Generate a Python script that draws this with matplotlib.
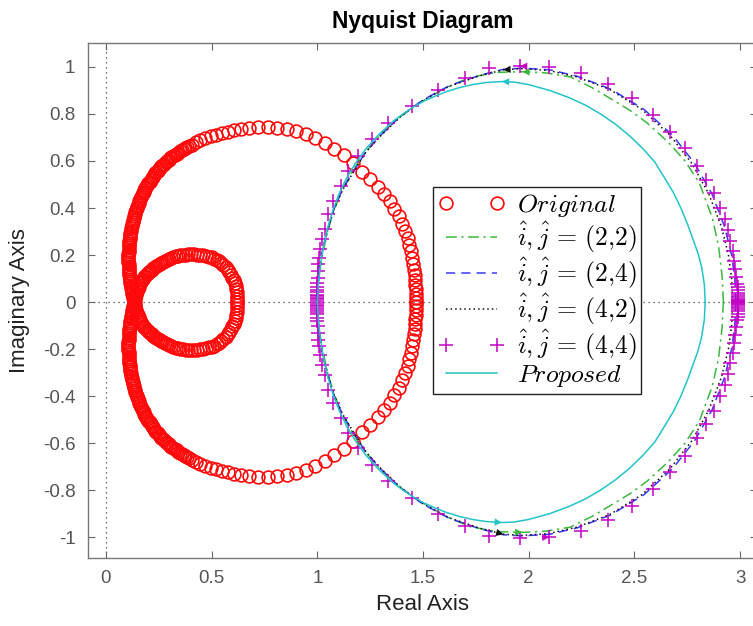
import numpy as np
import matplotlib
matplotlib.use('Agg')
import matplotlib.pyplot as plt

plt.rcParams['font.family'] = ['Liberation Sans', 'DejaVu Sans']
plt.rcParams['mathtext.fontset'] = 'cm'
plt.rcParams['axes.unicode_minus'] = False

# points, positive-frequency branch (upper half, Im >= 0)
# the negative-frequency branch of a Nyquist plot is its mirror image
original_upper = [
    (1.467, 0.000), (1.467, 0.018), (1.466, 0.036), (1.465, 0.054), (1.464, 0.072),
    (1.462, 0.092), (1.460, 0.114), (1.457, 0.137), (1.453, 0.162), (1.449, 0.188),
    (1.443, 0.215), (1.436, 0.243), (1.427, 0.272), (1.416, 0.302), (1.402, 0.333),
    (1.385, 0.364), (1.365, 0.396), (1.342, 0.428), (1.315, 0.458), (1.285, 0.489),
    (1.250, 0.522), (1.212, 0.555), (1.170, 0.590), (1.125, 0.624), (1.080, 0.652),
    (1.036, 0.678), (0.990, 0.698), (0.945, 0.714), (0.900, 0.726), (0.855, 0.735),
    (0.810, 0.741), (0.765, 0.744), (0.720, 0.744), (0.678, 0.742), (0.640, 0.737),
    (0.605, 0.731), (0.575, 0.725), (0.548, 0.719), (0.520, 0.712), (0.495, 0.705),
    (0.470, 0.697), (0.447, 0.688), (0.425, 0.679),
    (0.405, 0.670), (0.395, 0.665), (0.385, 0.660), (0.376, 0.655), (0.367, 0.650),
    (0.358, 0.646), (0.350, 0.641), (0.342, 0.636), (0.334, 0.631), (0.326, 0.626),
    (0.318, 0.621), (0.310, 0.616), (0.303, 0.611), (0.296, 0.606), (0.289, 0.600),
    (0.282, 0.595), (0.275, 0.589), (0.268, 0.583), (0.262, 0.577), (0.256, 0.571),
    (0.250, 0.565), (0.244, 0.559), (0.238, 0.553), (0.232, 0.547), (0.227, 0.540),
    (0.221, 0.533), (0.216, 0.526), (0.211, 0.519), (0.206, 0.512), (0.201, 0.505),
    (0.196, 0.498), (0.191, 0.491), (0.187, 0.484), (0.182, 0.477), (0.178, 0.469),
    (0.174, 0.462), (0.170, 0.454), (0.166, 0.446), (0.162, 0.438), (0.158, 0.430),
    (0.155, 0.422), (0.151, 0.414), (0.148, 0.406), (0.145, 0.398), (0.142, 0.390),
    (0.139, 0.381), (0.136, 0.373), (0.133, 0.364), (0.131, 0.356), (0.128, 0.347),
    (0.126, 0.339), (0.124, 0.330), (0.122, 0.322), (0.120, 0.313), (0.118, 0.304),
    (0.116, 0.295), (0.115, 0.286), (0.113, 0.277), (0.112, 0.268), (0.111, 0.259),
    (0.110, 0.250), (0.109, 0.241), (0.108, 0.232), (0.107, 0.223), (0.107, 0.214),
    (0.106, 0.205), (0.106, 0.196), (0.106, 0.187), (0.106, 0.178), (0.106, 0.169),
    (0.107, 0.160), (0.107, 0.151), (0.108, 0.142), (0.109, 0.133), (0.110, 0.124),
    (0.111, 0.115), (0.112, 0.106), (0.113, 0.097), (0.115, 0.088), (0.116, 0.079),
    (0.118, 0.070), (0.119, 0.061), (0.121, 0.053), (0.123, 0.044), (0.125, 0.036),
    (0.127, 0.027), (0.129, 0.018), (0.131, 0.009), (0.133, 0.000),
    # small inner loop
    (0.135, 0.008), (0.137, 0.016), (0.139, 0.024), (0.141, 0.032), (0.144, 0.040),
    (0.147, 0.048), (0.150, 0.056), (0.154, 0.064), (0.158, 0.072), (0.162, 0.080),
    (0.166, 0.087), (0.171, 0.093), (0.176, 0.100), (0.181, 0.106), (0.186, 0.112),
    (0.192, 0.118), (0.198, 0.123), (0.204, 0.128), (0.210, 0.133), (0.217, 0.138),
    (0.224, 0.143), (0.231, 0.148), (0.238, 0.153), (0.246, 0.158), (0.254, 0.163),
    (0.262, 0.167), (0.270, 0.172), (0.279, 0.176), (0.288, 0.180), (0.298, 0.184),
    (0.308, 0.188), (0.318, 0.191), (0.329, 0.194), (0.340, 0.197), (0.352, 0.199),
    (0.364, 0.201), (0.377, 0.202), (0.390, 0.203), (0.404, 0.203), (0.418, 0.203),
    (0.432, 0.202), (0.446, 0.200), (0.460, 0.198), (0.474, 0.196), (0.487, 0.193),
    (0.500, 0.190), (0.512, 0.185), (0.524, 0.180), (0.535, 0.173), (0.546, 0.165),
    (0.556, 0.156), (0.566, 0.147), (0.575, 0.137), (0.584, 0.126), (0.591, 0.115),
    (0.598, 0.104), (0.604, 0.092), (0.609, 0.080), (0.613, 0.067), (0.616, 0.054),
    (0.618, 0.041), (0.620, 0.027), (0.621, 0.014), (0.621, 0.000),
]

ij22_upper = [
    (2.921, 0.000), (2.915, 0.110), (2.898, 0.240), (2.868, 0.360), (2.808, 0.505),
    (2.740, 0.600), (2.660, 0.680), (2.559, 0.763), (2.480, 0.815), (2.401, 0.858),
    (2.300, 0.912), (2.196, 0.958), (2.080, 0.975), (1.970, 0.980), (1.850, 0.977),
    (1.720, 0.955), (1.600, 0.908), (1.480, 0.845), (1.380, 0.780), (1.300, 0.712),
    (1.235, 0.645), (1.183, 0.580), (1.140, 0.515), (1.105, 0.450), (1.075, 0.380),
    (1.050, 0.305), (1.030, 0.225), (1.015, 0.150), (1.005, 0.075), (1.000, 0.000),
]

ij24_upper = [
    (2.980, 0.000), (2.975, 0.100), (2.960, 0.200), (2.927, 0.320), (2.867, 0.460),
    (2.785, 0.590), (2.680, 0.710), (2.545, 0.820), (2.390, 0.905), (2.232, 0.960),
    (2.100, 0.988), (1.970, 0.995), (1.880, 0.990), (1.770, 0.965), (1.624, 0.920),
    (1.500, 0.860), (1.393, 0.790), (1.300, 0.710), (1.230, 0.640), (1.174, 0.560),
    (1.120, 0.480), (1.080, 0.400), (1.053, 0.320), (1.028, 0.240), (1.013, 0.160),
    (1.004, 0.080), (1.000, 0.000),
]

ij42_upper = [
    (2.965, 0.000), (2.960, 0.100), (2.945, 0.200), (2.912, 0.320), (2.852, 0.460),
    (2.772, 0.590), (2.668, 0.710), (2.535, 0.820), (2.382, 0.905), (2.226, 0.958),
    (2.095, 0.985), (1.968, 0.993), (1.880, 0.988), (1.770, 0.963), (1.624, 0.918),
    (1.500, 0.858), (1.393, 0.788), (1.300, 0.708), (1.230, 0.638), (1.174, 0.558),
    (1.120, 0.478), (1.080, 0.398), (1.053, 0.318), (1.028, 0.238), (1.013, 0.158),
    (1.004, 0.078), (1.000, 0.000),
]

ij44_upper = [
    (2.990, 0.002), (2.990, 0.005), (2.990, 0.009), (2.990, 0.014), (2.990, 0.020),
    (2.989, 0.028), (2.989, 0.038), (2.988, 0.050), (2.988, 0.062), (2.987, 0.075),
    (2.982, 0.106), (2.978, 0.139), (2.973, 0.174), (2.966, 0.217), (2.954, 0.260),
    (2.942, 0.305), (2.928, 0.352), (2.904, 0.401), (2.877, 0.462), (2.841, 0.518),
    (2.798, 0.579), (2.740, 0.654), (2.669, 0.725), (2.587, 0.796), (2.488, 0.867),
    (2.375, 0.926), (2.247, 0.973), (2.098, 1.000), (1.959, 1.004), (1.814, 0.994),
    (1.699, 0.951), (1.570, 0.902), (1.448, 0.834), (1.336, 0.763), (1.257, 0.692),
    (1.194, 0.621), (1.147, 0.557), (1.111, 0.494), (1.073, 0.430), (1.052, 0.376),
    (1.036, 0.309), (1.022, 0.267), (1.013, 0.224), (1.008, 0.189), (1.005, 0.160),
    (1.002, 0.132), (1.001, 0.103), (1.000, 0.082), (1.000, 0.066), (1.000, 0.052),
    (1.000, 0.041), (1.000, 0.032), (1.000, 0.024), (1.000, 0.017), (1.000, 0.011),
    (1.000, 0.005),
]

proposed_upper = [
    (2.835, 0.000), (2.831, 0.075), (2.818, 0.150), (2.800, 0.210), (2.780, 0.260),
    (2.752, 0.330), (2.720, 0.400), (2.685, 0.465), (2.645, 0.525), (2.597, 0.595),
    (2.543, 0.650), (2.480, 0.705), (2.410, 0.757), (2.340, 0.800), (2.270, 0.837),
    (2.190, 0.870), (2.100, 0.900), (2.000, 0.925), (1.930, 0.936), (1.873, 0.938),
    (1.800, 0.934), (1.740, 0.926), (1.675, 0.913), (1.610, 0.895), (1.560, 0.877),
    (1.500, 0.853), (1.450, 0.827), (1.400, 0.797), (1.360, 0.770), (1.290, 0.712),
    (1.230, 0.652), (1.180, 0.590), (1.140, 0.530), (1.105, 0.465), (1.075, 0.395),
    (1.050, 0.320), (1.030, 0.240), (1.015, 0.160), (1.005, 0.080), (1.000, 0.000),
]

series_labels = [r'$Original$', r'$\hat{i},\hat{j}\,=\,(2{,}2)$', r'$\hat{i},\hat{j}\,=\,(2{,}4)$',
                 r'$\hat{i},\hat{j}\,=\,(4{,}2)$', r'$\hat{i},\hat{j}\,=\,(4{,}4)$', r'$Proposed$']
xticks = [0, 0.5, 1, 1.5, 2, 2.5, 3]
yticks = [-1, -0.8, -0.6, -0.4, -0.2, 0, 0.2, 0.4, 0.6, 0.8, 1]


def branches(pts):
    p = np.array(pts)
    return p[:, 0], p[:, 1], p[:, 0], -p[:, 1]


def arrow(ax, xs, ys, i, color):
    ax.annotate('', xy=(xs[i + 1], ys[i + 1]), xytext=(xs[i], ys[i]),
                arrowprops=dict(arrowstyle='-|>', color=color, lw=0.01,
                                mutation_scale=13, shrinkA=0, shrinkB=0), zorder=6)


fig = plt.figure(figsize=(7.53, 6.26), dpi=100)
ax = fig.add_axes([88 / 753, 68 / 626, 1 - 88 / 753 + 0.005, 515 / 626])

ax.axhline(0, color='#444444', ls=(0, (1, 3)), lw=0.9, zorder=0)
ax.axvline(0, color='#444444', ls=(0, (1, 3)), lw=0.9, zorder=0)

styles = [
    (original_upper, dict(ls='none', marker='o', ms=9.2, mfc='none', mec='#ff0a0a', mew=1.2)),
    (ij22_upper, dict(ls=(0, (7, 3, 1.5, 3)), color='#3cb83c', lw=1.1)),
    (ij24_upper, dict(ls=(0, (6, 4)), color='#3a3aff', lw=1.1)),
    (ij42_upper, dict(ls=(0, (1, 2)), color='#111111', lw=1.1)),
    (ij44_upper, dict(ls='none', marker='+', ms=10, mec='#c400c4', mew=1.1)),
    (proposed_upper, dict(ls='-', color='#22c4c8', lw=1.1)),
]

handles = []
for pts, st in styles:
    ux, uy, lx, ly = branches(pts)
    h, = ax.plot(ux, uy, **st)
    ax.plot(lx, ly, **st)
    handles.append(h)

# direction arrows
px, py, _, _ = branches(proposed_upper)
k = int(np.argmin(np.abs(px - 1.93)))
arrow(ax, px, py, k, '#22c4c8')
k = int(np.argmin(np.abs(px - 1.80)))
arrow(ax, px[::-1], -py[::-1], len(px) - 1 - k, '#22c4c8')
for pts, c in [(ij22_upper, '#3cb83c'), (ij42_upper, '#111111')]:
    gx, gy, _, _ = branches(pts)
    k = int(np.argmin(np.abs(gx - 2.03)))
    arrow(ax, gx, gy, k, c)
    arrow(ax, gx[::-1], -gy[::-1], len(gx) - 2 - k - 1, c)
mx, my, _, _ = branches(ij44_upper)
k = int(np.argmin(np.abs(mx - 2.098)))
arrow(ax, mx, my, k, '#c400c4')
arrow(ax, mx[::-1], -my[::-1], len(mx) - 2 - k, '#c400c4')

ax.set_xlim(-0.085, 3.079)
ax.set_ylim(-1.089, 1.102)
ax.set_xticks(xticks)
ax.set_xticklabels([f'{t:g}' for t in xticks])
ax.set_yticks(yticks)
ax.set_yticklabels([f'{t:g}' for t in yticks])
ax.tick_params(direction='in', top=True, right=True, length=5, width=0.8,
               color='#666666', labelcolor='#555555', labelsize=13.5)
ax.tick_params(axis='x', pad=8.5)
ax.tick_params(axis='y', pad=9)
for s in ax.spines.values():
    s.set_color('#777777')
    s.set_linewidth(1.0)

ax.set_xlabel('Real Axis', fontsize=16, color='#222222', labelpad=5)
ax.set_ylabel('Imaginary Axis', fontsize=16, color='#222222', labelpad=9)
ax.set_title('Nyquist Diagram', fontsize=16.5, fontweight='bold', pad=11)

leg = ax.legend(handles, series_labels, loc='upper left', bbox_to_anchor=(433 / 753, 1 - 187 / 626),
                bbox_transform=fig.transFigure, fontsize=18.5, numpoints=2, handlelength=2.6,
                handletextpad=0.45, labelspacing=0.02, borderpad=0.2, borderaxespad=0,
                fancybox=False, edgecolor='#222222', framealpha=1)
leg.get_frame().set_linewidth(1.0)

fig.savefig('out.png', dpi=100)
